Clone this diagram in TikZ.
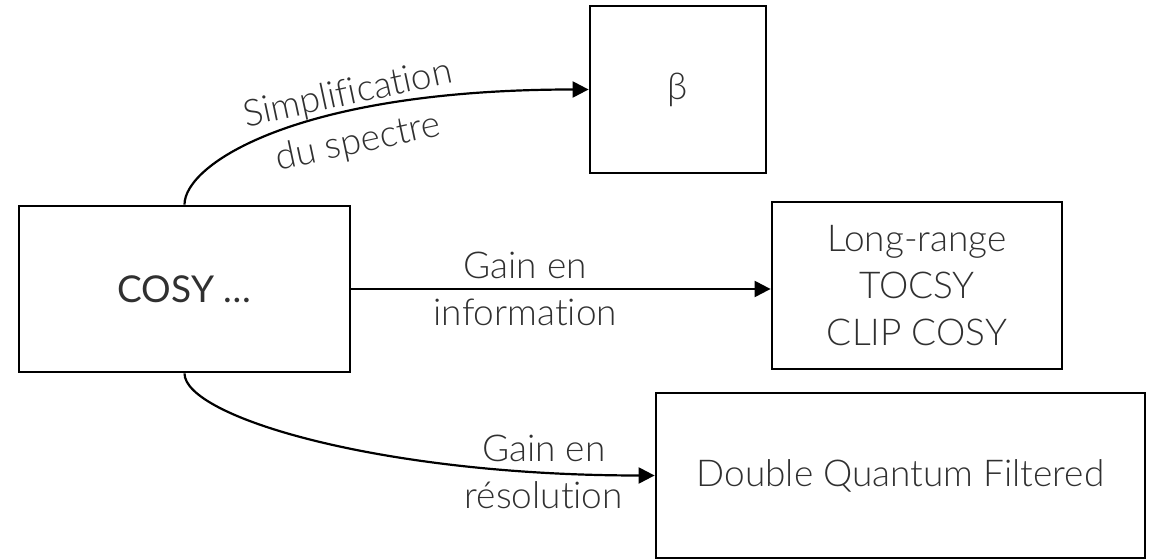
\documentclass[tikz,border=0pt]{standalone}
\usepackage{fontspec}
\setmainfont{Lato Light}[Ligatures=NoCommon]
\newfontfamily\regularfont{Lato}[Ligatures=NoCommon]
\usetikzlibrary{arrows.meta}
\definecolor{textgrey}{HTML}{303030}
\begin{document}
\begin{tikzpicture}[x=0.5pt,y=-0.5pt,
	box/.style={draw,line width=1.4pt,text=textgrey,align=center,inner sep=0pt,font=\fontsize{18.5}{23.5}\selectfont},
	link/.style={line width=1.1pt,-{Triangle[length=8pt,width=8pt]}},
	lbl/.style={text=textgrey,align=center,inner sep=0pt,font=\fontsize{18.5}{23.5}\selectfont}]
	\useasboundingbox (0,0) rectangle (1153,560);
	\node [box,minimum width=165.5pt,minimum height=83pt] (cosy) at (184.5,289) {\regularfont COSY …};
	\node [box,minimum width=88pt,minimum height=83.5pt] (beta) at (678,89.5) {β};
	\node [box,minimum width=145pt,minimum height=83.5pt] (lr) at (917,285.5) {Long-range\\TOCSY\\CLIP COSY};
	\node [box,minimum width=244.5pt,minimum height=82.5pt] (dqf) at (900.5,475.5) {Double Quantum Filtered};
	\draw [link] (cosy.north) .. controls +(0,-41) and +(-290,0) .. (beta.west)
	  node [lbl,pos=0.66,sloped,yshift=-4pt,font=\fontsize{18.5}{24.5}\selectfont] {Simplification\\du spectre};
	\draw [link] (cosy.east) -- (cosy.east -| lr.west)
	  node [lbl,pos=0.415] {Gain en\\information};
	\draw [link] (cosy.south) .. controls +(0,43) and +(-276,0) .. (dqf.west)
	  node [lbl,pos=0.86] {Gain en\\résolution};
\end{tikzpicture}
\end{document}
